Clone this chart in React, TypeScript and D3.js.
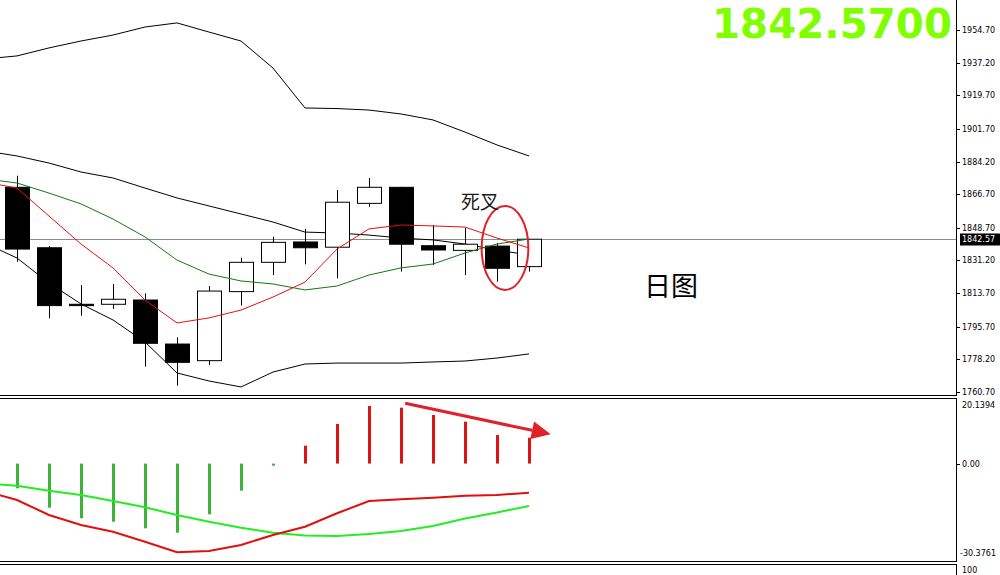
import React from 'react';
import * as d3 from 'd3';

// ---------- data ----------
const candleIndex = [0, 1, 2, 3, 4, 5, 6, 7, 8, 9, 10, 11, 12, 13, 14, 15, 16];
const opens = [1870.4, 1838.0, 1807.7, 1807.7, 1810.0, 1786.4, 1777.5, 1814.5, 1830.2, 1841.1, 1838.3, 1861.8, 1870.4, 1839.1, 1836.6, 1838.9, 1827.9];
const highs = [1876.6, 1838.9, 1818.0, 1818.6, 1813.6, 1790.0, 1817.5, 1832.7, 1843.9, 1848.1, 1869.0, 1875.4, 1870.6, 1850.2, 1848.6, 1840.6, 1842.57];
const lows = [1830.5, 1800.2, 1801.6, 1805.2, 1774.3, 1764.1, 1775.2, 1807.0, 1823.4, 1829.1, 1821.6, 1860.0, 1825.2, 1828.8, 1823.4, 1819.8, 1825.2];
const closes = [1837.3, 1807.0, 1807.0, 1810.4, 1786.8, 1776.6, 1814.8, 1830.2, 1840.9, 1838.0, 1862.4, 1870.4, 1839.9, 1836.8, 1839.9, 1827.0, 1842.57];

// indicator lines include one bar before the first visible candle
const lineIndex = [-1, 0, 1, 2, 3, 4, 5, 6, 7, 8, 9, 10, 11, 12, 13, 14, 15, 16];
const ma5 = [1873.2, 1870.0, 1855.0, 1840.0, 1827.2, 1810.0, 1797.7, 1800.4, 1804.6, 1811.6, 1819.6, 1837.3, 1848.1, 1850.2, 1849.7, 1849.1, 1843.2, 1837.9];
const ma10 = [1874.9, 1872.7, 1867.3, 1861.5, 1853.4, 1843.8, 1831.4, 1823.9, 1820.2, 1818.6, 1815.4, 1817.5, 1823.4, 1827.2, 1829.3, 1835.2, 1840.0, 1842.7];
const bollUpper = [1939.2, 1940.8, 1945.1, 1948.8, 1952.0, 1956.3, 1958.5, 1953.6, 1948.8, 1934.3, 1912.9, 1912.6, 1911.8, 1909.7, 1906.5, 1900.0, 1893.1, 1887.2];
const bollMid = [1889.9, 1887.2, 1883.4, 1878.6, 1875.4, 1870.0, 1864.7, 1860.4, 1856.1, 1851.8, 1846.4, 1845.9, 1844.8, 1843.2, 1842.2, 1840.0, 1836.8, 1834.1];
const bollLower = [1840.5, 1832.5, 1819.1, 1807.9, 1799.3, 1787.5, 1770.9, 1766.6, 1763.4, 1771.4, 1775.7, 1776.2, 1776.2, 1776.2, 1776.8, 1777.3, 1778.9, 1781.1];

const macdHist = [-7.70, -13.75, -17.06, -18.12, -20.18, -21.55, -15.81, -8.45, -0.65, 5.58, 12.35, 17.96, 17.43, 15.15, 13.07, 8.92, 8.08];
const macdDif = [-8.54, -11.35, -16.03, -19.15, -21.24, -24.35, -27.66, -27.25, -25.38, -22.26, -19.68, -15.50, -11.66, -11.13, -10.63, -10.01, -9.79, -9.07];
const macdDea = [-6.21, -6.89, -8.45, -9.79, -11.66, -13.63, -16.03, -18.12, -19.99, -21.55, -22.42, -22.58, -21.95, -21.02, -19.46, -17.12, -15.25, -13.22];

const priceTicks = ['1954.70', '1937.20', '1919.70', '1901.70', '1884.20', '1866.70', '1848.70', '1831.20', '1813.70', '1795.70', '1778.20', '1760.70'];
const macdMax = 20.1394;
const macdMin = -30.3761;
const lastPrice = 1842.57;
const bigPriceLabel = '1842.5700';

// ---------- layout ----------
const W = 1000;
const H = 575;
const AXIS_X = 956;
const MAIN_BOTTOM = 395;
const MACD_TOP = 399;
const MACD_BOTTOM = 561;
const axisFont = 'DejaVu Sans, sans-serif';

export default function App() {
  const x = d3.scaleLinear().domain([0, 16]).range([17, 529]);
  const yP = d3.scaleLinear().domain([1760.7, 1954.7]).range([392, 30]);
  const yM = d3.scaleLinear().domain([macdMin, macdMax]).range([MACD_BOTTOM, MACD_TOP]);

  const priceLine = (vals: number[]) =>
    d3.line<number>().x((_, i) => x(lineIndex[i])).y((v) => yP(v))(vals) || '';
  const macdLine = (vals: number[]) =>
    d3.line<number>().x((_, i) => x(lineIndex[i])).y((v) => yM(v))(vals) || '';

  const lastY = Math.round(yP(lastPrice)) + 0.5;
  const zeroY = yM(0);

  // annotations anchored on the scales
  const ellCx = x(15.25);
  const ellCy = yP(1837.9);
  const ellRx = x(15.98) - x(15.25);
  const ellRy = yP(1837.9) - yP(1860.4);

  const arrX1 = x(12.13);
  const arrY1 = yM(18.8);
  const arrX2 = x(16.68);
  const arrY2 = yM(9.14);
  const ang = Math.atan2(arrY2 - arrY1, arrX2 - arrX1);
  const headLen = 19;
  const headW = 9;
  const bx = arrX2 - headLen * Math.cos(ang);
  const by = arrY2 - headLen * Math.sin(ang);
  const head = [
    [arrX2, arrY2],
    [bx + headW * Math.sin(ang), by - headW * Math.cos(ang)],
    [bx - headW * Math.sin(ang), by + headW * Math.cos(ang)],
  ];

  return (
    <svg
      width={W}
      height={H}
      style={{ position: 'absolute', left: 0, top: 0, background: '#fff' }}
      xmlns="http://www.w3.org/2000/svg"
    >
      <defs>
        <clipPath id="mainClip">
          <rect x={0} y={0} width={AXIS_X} height={MAIN_BOTTOM} />
        </clipPath>
        <clipPath id="macdClip">
          <rect x={0} y={MACD_TOP} width={AXIS_X} height={MACD_BOTTOM - MACD_TOP} />
        </clipPath>
      </defs>
      <rect x={0} y={0} width={W} height={H} fill="#fff" />

      {/* ---------- main panel ---------- */}
      <g clipPath="url(#mainClip)">
        {/* current price line */}
        <line x1={0} x2={AXIS_X} y1={lastY} y2={lastY} stroke="#8c8c8c" strokeWidth={1} />

        {/* bollinger */}
        <path d={priceLine(bollUpper)} fill="none" stroke="#000" strokeWidth={1} />
        <path d={priceLine(bollMid)} fill="none" stroke="#000" strokeWidth={1} />
        <path d={priceLine(bollLower)} fill="none" stroke="#000" strokeWidth={1} />

        {/* candles */}
        {candleIndex.map((k, i) => {
          const cx = Math.round(x(k));
          const o = opens[i];
          const c = closes[i];
          const bull = c >= o;
          const top = yP(Math.max(o, c));
          const bot = yP(Math.min(o, c));
          const h = Math.max(1, bot - top);
          return (
            <g key={k}>
              <line x1={cx + 0.5} x2={cx + 0.5} y1={yP(highs[i])} y2={yP(lows[i])} stroke="#000" strokeWidth={1} />
              <rect
                x={cx - 11.5}
                y={top}
                width={24}
                height={h}
                fill={bull ? '#fff' : '#000'}
                stroke="#000"
                strokeWidth={1}
              />
            </g>
          );
        })}

        {/* moving averages */}
        <path d={priceLine(ma10)} fill="none" stroke="#107a10" strokeWidth={1} />
        <path d={priceLine(ma5)} fill="none" stroke="#e81010" strokeWidth={1} />

        {/* annotation: death cross */}
        <ellipse cx={ellCx} cy={ellCy} rx={ellRx} ry={ellRy} fill="none" stroke="#e0202a" strokeWidth={2} />
        <text
          x={461}
          y={200}
          fontFamily="'Noto Sans CJK SC', sans-serif"
          fontSize={19}
          fill="#1a1a1a"
          dominantBaseline="central"
        >
          死叉
        </text>
        <text
          x={644}
          y={284}
          fontFamily="'Noto Sans CJK SC', sans-serif"
          fontSize={27}
          fill="#000"
          dominantBaseline="central"
        >
          日图
        </text>
      </g>

      {/* big price */}
      <text
        x={952}
        y={37.5}
        textAnchor="end"
        fontFamily="'DejaVu Sans', sans-serif"
        fontWeight="bold"
        fontSize={40}
        textLength={240}
        lengthAdjust="spacingAndGlyphs"
        fill="#7fff00"
      >
        {bigPriceLabel}
      </text>

      {/* ---------- MACD panel ---------- */}
      <g clipPath="url(#macdClip)">
        {candleIndex.map((k, i) => {
          const v = macdHist[i];
          const cx = Math.round(x(k));
          const y0 = Math.min(zeroY, yM(v));
          const hh = Math.max(1.5, Math.abs(yM(v) - zeroY));
          return (
            <rect
              key={k}
              x={cx - 1}
              y={y0}
              width={3}
              height={hh}
              fill={v >= 0 ? '#dd1414' : '#3cb43c'}
            />
          );
        })}
        <path d={macdLine(macdDea)} fill="none" stroke="#22ee22" strokeWidth={2} />
        <path d={macdLine(macdDif)} fill="none" stroke="#e01010" strokeWidth={2} />

        {/* trend arrow */}
        <line x1={arrX1} y1={arrY1} x2={bx} y2={by} stroke="#e0202a" strokeWidth={3} />
        <polygon points={head.map((p) => p.join(',')).join(' ')} fill="#e0202a" />
      </g>

      {/* ---------- frames ---------- */}
      <line x1={0} x2={AXIS_X + 1} y1={MAIN_BOTTOM + 0.5} y2={MAIN_BOTTOM + 0.5} stroke="#000" />
      <line x1={0} x2={AXIS_X + 1} y1={MACD_TOP - 0.5} y2={MACD_TOP - 0.5} stroke="#000" />
      <line x1={0} x2={AXIS_X + 1} y1={MACD_BOTTOM + 0.5} y2={MACD_BOTTOM + 0.5} stroke="#000" />
      <line x1={0} x2={AXIS_X + 1} y1={MACD_BOTTOM + 3.5} y2={MACD_BOTTOM + 3.5} stroke="#000" />

      <line x1={AXIS_X + 0.5} x2={AXIS_X + 0.5} y1={0} y2={MAIN_BOTTOM + 1} stroke="#000" />
      <line x1={AXIS_X + 0.5} x2={AXIS_X + 0.5} y1={MACD_TOP - 1} y2={MACD_BOTTOM + 1} stroke="#000" />
      <line x1={AXIS_X + 0.5} x2={AXIS_X + 0.5} y1={MACD_BOTTOM + 3} y2={H} stroke="#000" />

      {/* price axis */}
      {priceTicks.map((t) => {
        const yy = Math.round(yP(+t)) + 0.5;
        return (
          <g key={t}>
            <line x1={AXIS_X} x2={AXIS_X + 4} y1={yy} y2={yy} stroke="#000" />
            <text x={962} y={yy} fontFamily={axisFont} fontSize={8} fill="#000" dominantBaseline="central">
              {t}
            </text>
          </g>
        );
      })}

      {/* last price tag */}
      <rect x={960} y={lastY - 6} width={40} height={12} fill="#000" />
      <text x={962} y={lastY} fontFamily={axisFont} fontSize={8} fill="#fff" dominantBaseline="central">
        {lastPrice.toFixed(2)}
      </text>

      {/* MACD axis */}
      <text x={962} y={yM(macdMax) + 6} fontFamily={axisFont} fontSize={8} fill="#000" dominantBaseline="central">
        {macdMax.toFixed(4)}
      </text>
      <line x1={AXIS_X} x2={AXIS_X + 4} y1={Math.round(zeroY) + 0.5} y2={Math.round(zeroY) + 0.5} stroke="#000" />
      <text x={962} y={Math.round(zeroY) + 0.5} fontFamily={axisFont} fontSize={8} fill="#000" dominantBaseline="central">
        0.00
      </text>
      <text x={960} y={yM(macdMin) - 7.5} fontFamily={axisFont} fontSize={8} fill="#000" dominantBaseline="central">
        {macdMin.toFixed(4)}
      </text>

      {/* third panel label */}
      <text x={962} y={570} fontFamily={axisFont} fontSize={8} fill="#000" dominantBaseline="central">
        100
      </text>
    </svg>
  );
}
